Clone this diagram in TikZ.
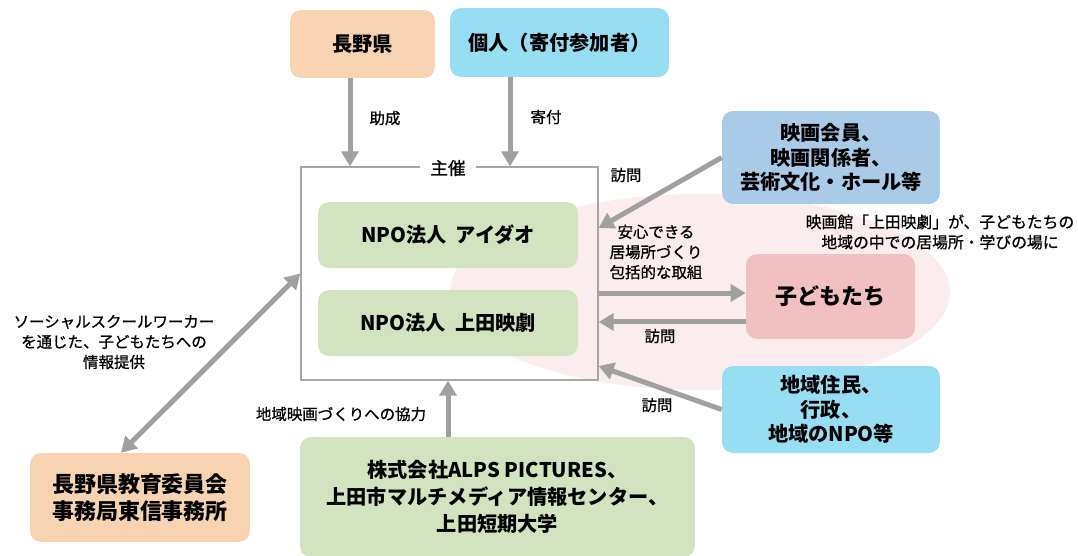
\documentclass[tikz,border=0pt]{standalone}
\usepackage{fontspec}
\setmainfont{Noto Sans CJK JP}
\newfontfamily\medfont{Noto Sans CJK JP}[FakeBold=0.9]
\usetikzlibrary{arrows.meta}

\definecolor{peach}{HTML}{F8D3B1}
\definecolor{skyblue}{HTML}{98DEF3}
\definecolor{steelbox}{HTML}{A9CBE7}
\definecolor{greenbox}{HTML}{D3E3BF}
\definecolor{pinkbox}{HTML}{F2C0C0}
\definecolor{pinkbg}{HTML}{FBEDED}
\definecolor{arrowgray}{HTML}{A0A0A0}

\tikzset{
  box/.style={rounded corners=0.22cm, align=center, font=\bfseries\fontsize{11.5}{14}\selectfont, inner sep=0pt},
  lbl/.style={align=center, font=\medfont\fontsize{8.8}{11.5}\selectfont, inner sep=1pt},
  arr/.style={draw=arrowgray, line width=0.1cm, -{Triangle[length=0.3cm, width=0.34cm]}},
  darr/.style={draw=arrowgray, line width=0.1cm, {Triangle[length=0.3cm, width=0.34cm]}-{Triangle[length=0.3cm, width=0.34cm]}},
}

\begin{document}
\begin{tikzpicture}[x=0.02cm, y=-0.02cm]
  \useasboundingbox (0,0) rectangle (1078,555);
  % Shading first
  \fill[pinkbg] (700,292) ellipse [x radius=5cm, y radius=1.96cm];

  % Frame
  \node[draw=black!35, line width=0.8pt, minimum width=5.94cm, minimum height=4.26cm] (shusai) at (449.5,273.5) {};
  \node[lbl, fill=white, inner xsep=6pt, font=\medfont\fontsize{10}{12}\selectfont] (shusailbl) at (448,168) {主催};

  % Boxes
  \node[box, fill=peach, minimum width=2.9cm, minimum height=1.36cm] (ken) at (362.5,44) {長野県};
  \node[box, fill=skyblue, minimum width=4.38cm, minimum height=1.38cm] (kojin) at (559.5,42.5) {個人（寄付参加者）};
  \node[box, fill=greenbox, minimum width=5.2cm, minimum height=1.32cm] (aidao) at (448,235) {NPO法人\ \ アイダオ};
  \node[box, fill=greenbox, minimum width=5.2cm, minimum height=1.32cm] (eigeki) at (448,323) {NPO法人\ \ 上田映劇};
  \node[box, fill=steelbox, minimum width=4.36cm, minimum height=1.86cm] (eiga) at (831,157.5) {映画会員、\\映画関係者、\\芸術文化・ホール等};
  \node[box, fill=pinkbox, minimum width=3.38cm, minimum height=1.7cm, font=\bfseries\fontsize{12.5}{15}\selectfont] (kodomo) at (830.5,296.5) {子どもたち};
  \node[box, fill=skyblue, minimum width=4.36cm, minimum height=1.74cm] (chiiki) at (831,409.5) {地域住民、\\行政、\\地域のNPO等};
  \node[box, fill=greenbox, minimum width=7.9cm, minimum height=2.4cm, font=\bfseries\fontsize{11.5}{15.2}\selectfont] (alps) at (497.5,497) {株式会社ALPS PICTURES、\\上田市マルチメディア情報センター、\\上田短期大学};
  \node[box, fill=peach, minimum width=4.4cm, minimum height=1.78cm, font=\bfseries\fontsize{12.5}{15.5}\selectfont] (kyoiku) at (140,497.5) {長野県教育委員会\\事務局東信事務所};

  % Arrows
  \draw[arr] ([xshift=-0.25cm]ken.south) -- ([xshift=-0.25cm]ken.south |- shusai.north);
  \draw[arr] ([xshift=-0.99cm]kojin.south) -- ([xshift=-0.99cm]kojin.south |- shusai.north);
  \draw[arr] (eiga.west) -- ([yshift=0.91cm]shusai.east);
  \draw[arr] ([yshift=-0.39cm]shusai.east) -- ([yshift=-0.39cm]shusai.east -| kodomo.west);
  \draw[arr] ([yshift=-0.97cm]shusai.east -| kodomo.west) -- ([yshift=-0.97cm]shusai.east);
  \draw[arr] (chiiki.west) -- ([yshift=-1.85cm]shusai.east);
  \draw[arr] ([xshift=-0.99cm]alps.north) -- ([xshift=-0.99cm]alps.north |- shusai.south);
  \draw[darr] ([xshift=-0.38cm]kyoiku.north) -- (shusai.west);

  % Labels
  \node[lbl] (josei) at (385,118) {助成};
  \node[lbl] (kifu) at (546,117) {寄付};
  \node[lbl] (homon1) at (626,175) {訪問};
  \node[lbl] (anshin) at (656,252) {安心できる\\居場所づくり\\包括的な取組};
  \node[lbl] (homon2) at (660,336) {訪問};
  \node[lbl] (homon3) at (657,405) {訪問};
  \node[lbl] (kyoryoku) at (341,414) {地域映画づくりへの協力};
  \node[lbl] (ssw) at (114,342) {ソーシャルスクールワーカー\\を通じた、子どもたちへの\\情報提供};
  \node[lbl, font=\medfont\fontsize{9}{11.5}\selectfont] (basho) at (940,232) {映画館「上田映劇」が、子どもたちの\\地域の中での居場所・学びの場に};
\end{tikzpicture}
\end{document}
